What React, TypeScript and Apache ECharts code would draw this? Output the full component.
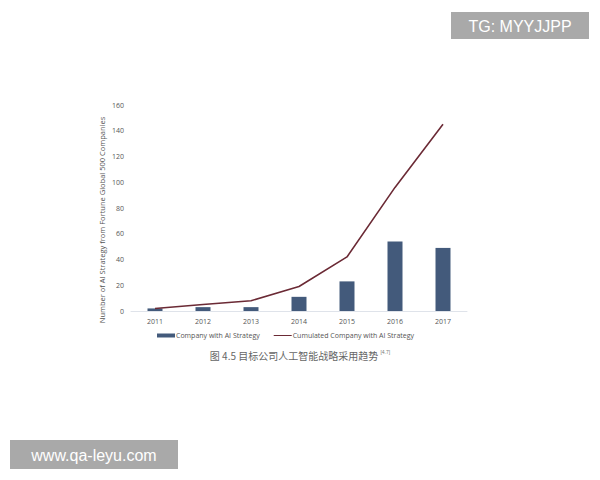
import React, { useEffect, useRef } from "react";
import * as echarts from "echarts";

const years = ["2011", "2012", "2013", "2014", "2015", "2016", "2017"];
const companies = [2, 3, 3, 11, 23, 54, 49];
const cumulated = [2, 5, 8, 19, 42, 96, 145];
const yTicks = { min: 0, max: 160, interval: 20 };

export default function App() {
  const ref = useRef<HTMLDivElement>(null);
  useEffect(() => {
    if (!ref.current) return;
    const chart = echarts.init(ref.current, undefined, { renderer: "svg" });
    chart.setOption({
      animation: false,
      backgroundColor: "#ffffff",
      textStyle: { fontFamily: "Open Sans, Noto Sans, sans-serif" },
      grid: { left: 131, right: 133, top: 105, bottom: 169 },
      xAxis: {
        type: "category",
        data: years,
        axisLine: { lineStyle: { color: "#dfe3ea", width: 1 } },
        axisTick: { show: false },
        axisLabel: { color: "#555", fontSize: 7, margin: 7 },
      },
      yAxis: {
        type: "value",
        min: yTicks.min,
        max: yTicks.max,
        interval: yTicks.interval,
        name: "Number of AI Strategy from Fortune Global 500 Companies",
        nameLocation: "middle",
        nameGap: 25,
        nameMoveOverlap: false,
        nameTextStyle: { color: "#555", fontSize: 7.5, padding: [0, 24, 0, 0] },
        axisLine: { show: false },
        axisTick: { show: false },
        splitLine: { show: false },
        axisLabel: { color: "#555", fontSize: 7, margin: 7 },
      },
      legend: {
        top: 327,
        left: 152,
        itemGap: 14,
        itemWidth: 18,
        itemHeight: 4,
        textStyle: { color: "#555", fontSize: 7, padding: [0, 0, 0, -4] },
        data: [
          { name: "Company with AI Strategy", icon: "rect" },
          { name: "Cumulated Company with AI Strategy", icon: "path://M0,0 L18,0 L18,1 L0,1 Z" },
        ],
      },
      series: [
        {
          name: "Company with AI Strategy",
          type: "bar",
          data: companies,
          barWidth: 15,
          itemStyle: { color: "#435a7b" },
        },
        {
          name: "Cumulated Company with AI Strategy",
          type: "line",
          data: cumulated,
          symbol: "none",
          lineStyle: { color: "#6b2a35", width: 1.6 },
          itemStyle: { color: "#6b2a35" },
        },
      ],
      graphic: [
        {
          type: "text",
          left: "center",
          top: 349,
          style: {
            text: "图 4.5 目标公司人工智能战略采用趋势 {s|[4.7]}",
            fill: "#666",
            font: '10px "Noto Sans CJK SC", sans-serif',
            rich: { s: { fontSize: 5, fill: "#777", verticalAlign: "top", padding: [0, 0, 8, 0] } },
          },
        },
        {
          type: "group",
          left: 451,
          top: 12,
          children: [
            { type: "rect", shape: { x: 0, y: 0, width: 138, height: 27 }, style: { fill: "#a9a9a9" } },
            {
              type: "text",
              x: 69,
              y: 14,
              style: { text: "TG: MYYJJPP", fill: "#fff", font: '16px "Liberation Sans", Arial, sans-serif', align: "center", verticalAlign: "middle" },
            },
          ],
        },
        {
          type: "group",
          left: 10,
          top: 440,
          children: [
            { type: "rect", shape: { x: 0, y: 0, width: 168, height: 29 }, style: { fill: "#a9a9a9" } },
            {
              type: "text",
              x: 84,
              y: 15,
              style: { text: "www.qa-leyu.com", fill: "#fff", font: '16px "Liberation Sans", Arial, sans-serif', align: "center", verticalAlign: "middle" },
            },
          ],
        },
      ],
    });
    return () => chart.dispose();
  }, []);
  return <div ref={ref} style={{ width: 600, height: 480, position: "absolute", left: 0, top: 0 }} />;
}
